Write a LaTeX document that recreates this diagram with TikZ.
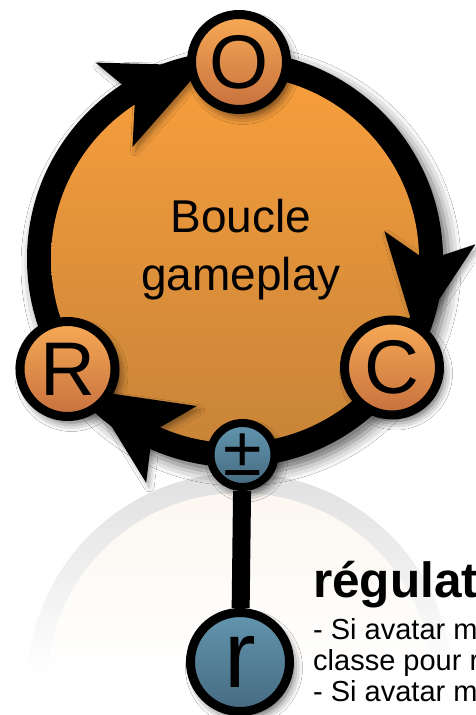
\documentclass[tikz,border=0pt]{standalone}
\usepackage{fontspec}
\setmainfont{Liberation Sans}
\usetikzlibrary{calc,shadows.blur}
\definecolor{mainTop}{RGB}{247,158,60}
\definecolor{mainBot}{RGB}{200,132,56}
\definecolor{nodeTop}{RGB}{247,170,85}
\definecolor{nodeBot}{RGB}{198,112,62}
\definecolor{blueTop}{RGB}{98,150,175}
\definecolor{blueBot}{RGB}{70,106,128}
\definecolor{ringGrey}{RGB}{224,224,224}
\definecolor{cream}{RGB}{252,247,240}
\pgfdeclarelayer{bg}
\pgfsetlayers{bg,main}
\begin{document}
\begin{tikzpicture}[x=1pt,y=1pt,
  nodeshadow/.style={blur shadow={shadow xshift=4pt, shadow yshift=-6pt, shadow blur radius=9pt, shadow opacity=70}},
  bigshadow/.style={blur shadow={shadow xshift=6pt, shadow yshift=-7pt, shadow blur radius=12pt, shadow opacity=60}},
  tipshadow/.style={blur shadow={shadow xshift=3pt, shadow yshift=-4pt, shadow blur radius=5pt, shadow opacity=35}},
  letternode/.style={circle, draw=black, line width=9pt, minimum size=95pt, inner sep=0pt,
    top color=nodeTop, bottom color=nodeBot, font=\fontsize{76}{76}\selectfont, nodeshadow},
  pmnode/.style={circle, draw=black, line width=8pt, minimum size=64pt, inner sep=0pt,
    top color=blueTop, bottom color=blueBot, font=\fontsize{70}{70}\selectfont, nodeshadow},
  regnode/.style={circle, draw=black, line width=9pt, minimum size=99pt, inner sep=0pt,
    top color=blueTop, bottom color=blueBot, font=\fontsize{95}{95}\selectfont, nodeshadow},
  bodytext/.style={anchor=base west, inner sep=0pt, font=\fontsize{29}{31}\selectfont}
]
\useasboundingbox (0,0) rectangle (475,715);
\coordinate (ctr) at (235,456);
\coordinate (ghost) at (240,29);

% main loop disk (black ring + orange inside)
\fill[black, bigshadow] (ctr) circle (208);
\shade[top color=mainTop, bottom color=mainBot] (ctr) circle (184);
\node[font=\fontsize{46}{58}\selectfont, align=center, inner sep=0pt] (title) at (241,465.5) {Boucle\\gameplay};

% arrowheads on the loop (tip angle / back angle)
\foreach \t/\m in {99.1/128.1, -22.8/6.2, 222.1/251.1} {
  \coordinate (T) at ([shift={(\t:196)}]ctr);
  \coordinate (M) at ([shift={(\m:196)}]ctr);
  \fill[black, tipshadow] (T) -- ($(M)!46pt!90:(T)$) -- ($(M)!23pt!(T)$) -- ($(M)!46pt!-90:(T)$) -- cycle;
}

% nodes
\node[letternode] (O) at (239,653) {O};
\node[letternode] (R) at (67.5,346) {R};
\node[letternode] (C) at (392,347.5) {C};
\node[pmnode] (pm) at (242.5,260) {±};
\node[regnode] (r) at (240,53) {r};

% text
\node[anchor=base west, inner sep=0pt, font=\bfseries\fontsize{49.5}{50}\selectfont] (head) at (313,117) {régulat};
\node[bodytext] (l1) at (313,75) {- Si avatar m};
\node[bodytext] (l2) at (313,44) {classe pour r};
\node[bodytext] (l3) at (313,13) {- Si avatar m};

\begin{pgfonlayer}{bg}
\fill[white] (0,0) rectangle (475,715);
\begin{scope}
  \clip (ghost) circle (213);
  \shade[top color=ringGrey, bottom color=white] (0,40) rectangle (475,243);
\end{scope}
\begin{scope}
  \clip (ghost) circle (193);
  \shade[top color=cream, bottom color=white] (0,40) rectangle (475,223);
\end{scope}
\draw[line width=18pt] (pm) -- (r);
\end{pgfonlayer}
\end{tikzpicture}
\end{document}
